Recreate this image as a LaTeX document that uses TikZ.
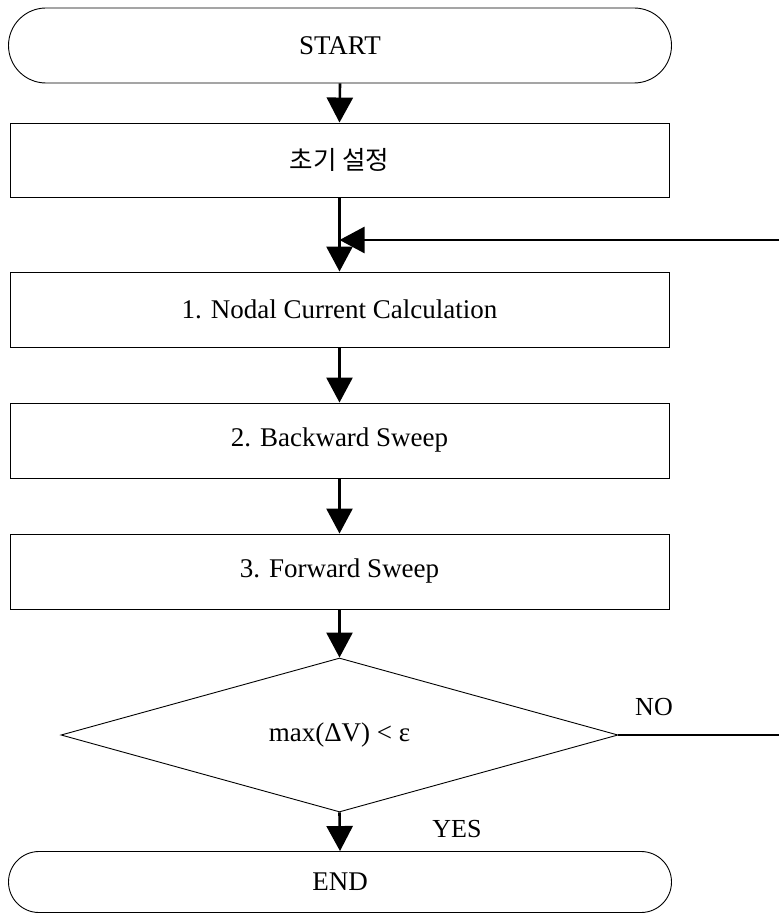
\documentclass[tikz,border=0pt]{standalone}
\usepackage{fontspec}
\setmainfont{Liberation Serif}
\newfontfamily\kr{Noto Sans CJK KR}
\usetikzlibrary{arrows.meta,shapes.geometric}

\tikzset{
  base/.style={draw=black, line width=0.9pt, inner sep=0pt,
    font=\fontsize{27}{32}\selectfont},
  terminal/.style={base, rectangle, minimum width=663pt},
  stepbox/.style={base, rectangle, minimum width=659pt, minimum height=75pt},
  decision/.style={base, diamond, aspect=3.6, minimum width=557pt, minimum height=154pt},
  flow/.style={line width=2.6pt, -{Triangle[length=25pt,width=26pt]}},
  plain/.style={line width=2.6pt},
  tag/.style={font=\fontsize{26}{30}\selectfont, inner sep=0pt}
}

\begin{document}
\begin{tikzpicture}[x=1pt, y=-1pt]
  \useasboundingbox (0,0) rectangle (779,920);

  % terminals
  \node[terminal, minimum height=75pt, rounded corners=37.5pt] (start) at (340,45.5) {START};
  \node[terminal, minimum height=61pt, rounded corners=30.5pt] (end) at (340,882) {END};

  % process steps
  \node[stepbox, minimum height=74pt] (init) at (339.5,160) {\kr\fontsize{25.5}{30}\selectfont 초기 설정};
  \node[stepbox] (nodal) at (339.5,309.5) {1. Nodal Current Calculation};
  \node[stepbox] (back) at (339.5,440.5) {2. Backward Sweep};
  \node[stepbox] (fwd) at (339.5,571.5) {3. Forward Sweep};

  % convergence test
  \node[decision] (test) at (339.5,735) {max(ΔV) < ε};

  % loop-back points
  \coordinate (join) at (339.5,240);
  \coordinate (ret) at (779,240);
  \coordinate (noend) at (779,735);

  % main flow
  \draw[flow] (start.south) -- (init.north);
  \draw[flow] (init.south) -- (nodal.north);
  \draw[flow] (nodal.south) -- (back.north);
  \draw[flow] (back.south) -- (fwd.north);
  \draw[flow] (fwd.south) -- (test.north);
  \draw[flow] (test.south) -- (end.north);

  % iteration loop
  \draw[plain] (test.east) -- (noend);
  \draw[flow] (ret) -- (join);

  % branch labels
  \node[tag] (no) at (654,707) {NO};
  \node[tag] (yes) at (457,829) {YES};
\end{tikzpicture}
\end{document}
